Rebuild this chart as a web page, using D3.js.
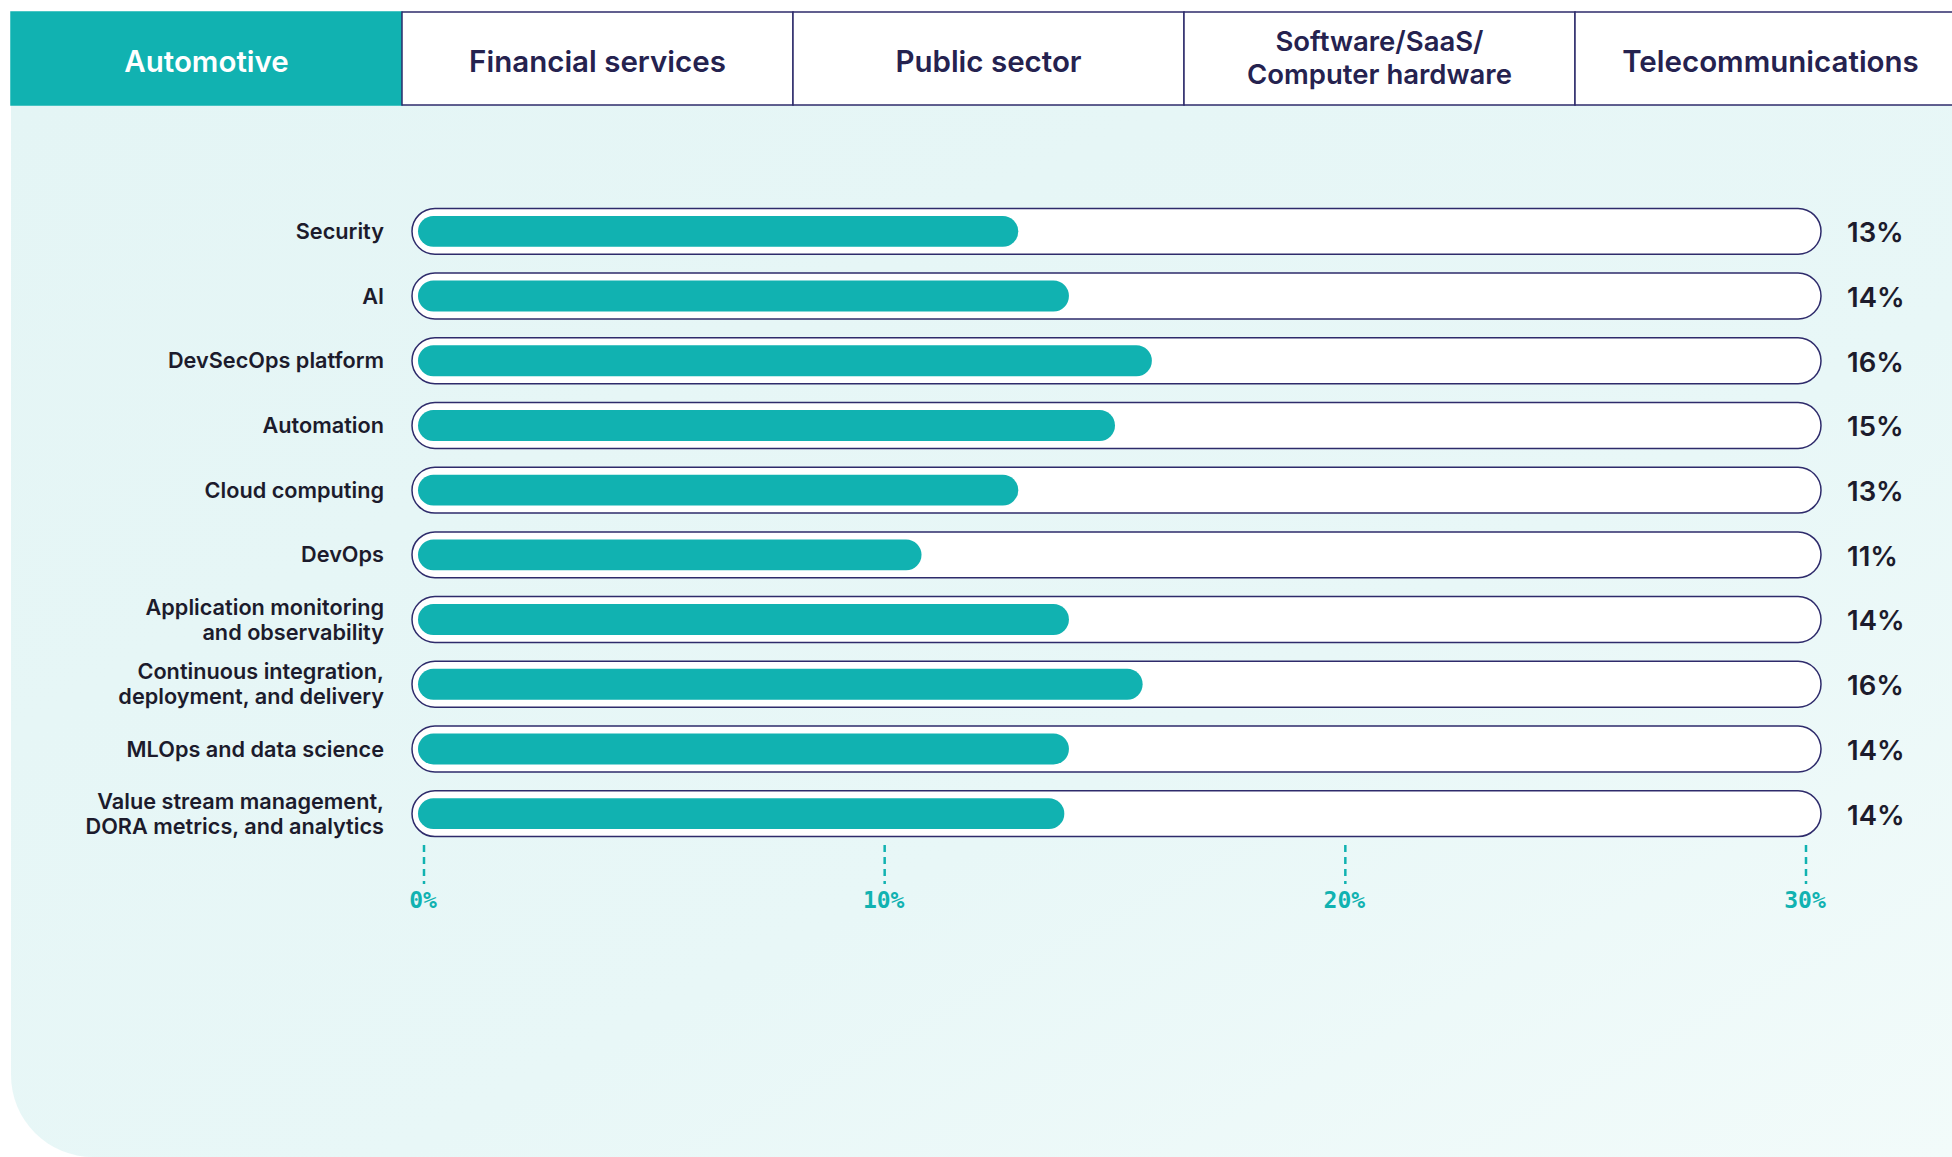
<!DOCTYPE html>
<html>
<head>
<meta charset="utf-8">
<script src="https://cdn.jsdelivr.net/npm/d3@7"></script>
<style>
  body { margin: 0; background: #fff; }
  svg { display: block; }
</style>
</head>
<body>
<svg id="chart"></svg>
<script>
const tabs = ['Automotive', 'Financial services', 'Public sector', 'Software/SaaS/\nComputer hardware', 'Telecommunications']
const activeTab = 'Automotive'

const categories = [
  'Security',
  'AI',
  'DevSecOps platform',
  'Automation',
  'Cloud computing',
  'DevOps',
  'Application monitoring\nand observability',
  'Continuous integration,\ndeployment, and delivery',
  'MLOps and data science',
  'Value stream management,\nDORA metrics, and analytics'
]
const values = [12.9, 14.0, 15.8, 15.0, 12.9, 10.8, 14.0, 15.6, 14.0, 13.9]
const ticks = [0, 10, 20, 30]

const width = 1952
const height = 1157
const teal = '#11b2b1'
const navy = '#2e2b6b'
const ink = '#1c1b2c'

const svg = d3.select('#chart')
  .attr('width', width)
  .attr('height', height)

// background panel with gradient
const defs = svg.append('defs')
const grad = defs.append('linearGradient')
  .attr('id', 'panel-grad')
  .attr('x1', 0).attr('y1', 0).attr('x2', 1).attr('y2', 1)
grad.append('stop').attr('offset', '0%').attr('stop-color', '#e4f5f5')
grad.append('stop').attr('offset', '60%').attr('stop-color', '#e8f7f7')
grad.append('stop').attr('offset', '100%').attr('stop-color', '#f2fbfa')

const px = 11
const py = 105
const r = 82
svg.append('path')
  .attr('d', `M${px},${py} H${width} V${height} H${px + r} A${r},${r} 0 0 1 ${px},${height - r} Z`)
  .attr('fill', 'url(#panel-grad)')

// tabs
const tabX = d3.scaleBand()
  .domain(tabs)
  .range([px, px + 391 * tabs.length])

const tab = svg.append('g').selectAll('g').data(tabs).enter().append('g')
  .attr('transform', d => `translate(${tabX(d)},12)`)

tab.append('rect')
  .attr('width', tabX.bandwidth())
  .attr('height', 93)
  .attr('fill', d => d === activeTab ? teal : '#fff')
  .attr('stroke', d => d === activeTab ? teal : navy)
  .attr('stroke-width', 1.5)

tab.append('text')
  .attr('x', tabX.bandwidth() / 2)
  .attr('text-anchor', 'middle')
  .attr('font-family', 'Inter, sans-serif')
  .attr('font-weight', 600)
  .attr('font-size', d => d.includes('\n') ? 27.5 : 29.5)
  .attr('fill', d => d === activeTab ? '#fff' : '#25224f')
  .each(function (d) {
    const lines = d.split('\n')
    const mid = lines.length > 1 ? 46 : 49.5
    d3.select(this).selectAll('tspan').data(lines).enter().append('tspan')
      .attr('x', tabX.bandwidth() / 2)
      .attr('y', (l, i) => mid + (i - (lines.length - 1) / 2) * 33.5)
      .attr('dy', '0.35em')
      .text(l => l)
  })

// scales
const x = d3.scaleLinear()
  .domain([0, 30])
  .range([424, 1806])

const y = d3.scaleBand()
  .domain(categories)
  .range([199, 846])
  .paddingInner(0.29)
  .paddingOuter(0.145)

const rows = svg.append('g').selectAll('g').data(categories).enter().append('g')
  .attr('transform', d => `translate(0,${y(d)})`)

const bh = y.bandwidth()

rows.append('rect')
  .attr('x', x(0) - 12)
  .attr('width', x(30) + 15 - (x(0) - 12))
  .attr('height', bh)
  .attr('rx', bh / 2)
  .attr('fill', '#fff')
  .attr('stroke', navy)
  .attr('stroke-width', 1.5)

const ih = bh - 15
rows.append('rect')
  .attr('x', x(0) - 6)
  .attr('y', 7.5)
  .attr('width', (d, i) => x(values[i]) - (x(0) - 6))
  .attr('height', ih)
  .attr('rx', ih / 2)
  .attr('fill', teal)

// category labels
rows.append('text')
  .attr('text-anchor', 'end')
  .attr('font-family', 'Inter, sans-serif')
  .attr('font-weight', 600)
  .attr('font-size', 21.7)
  .attr('fill', ink)
  .each(function (d) {
    const lines = d.split('\n')
    d3.select(this).selectAll('tspan').data(lines).enter().append('tspan')
      .attr('x', 384)
      .attr('y', (l, i) => bh / 2 + (i - (lines.length - 1) / 2) * 25)
      .attr('dy', '0.35em')
      .text(l => l)
  })

// value labels
rows.append('text')
  .attr('x', 1847)
  .attr('y', bh / 2 + 1)
  .attr('dy', '0.36em')
  .attr('font-family', 'Inter, sans-serif')
  .attr('font-weight', 600)
  .attr('font-size', 27.5)
  .attr('fill', ink)
  .text((d, i) => d3.format('.0f')(values[i]) + '%')

// axis ticks
const axis = svg.append('g').selectAll('g').data(ticks).enter().append('g')
  .attr('transform', d => `translate(${x(d)},0)`)

axis.append('line')
  .attr('y1', 845)
  .attr('y2', 884)
  .attr('stroke', teal)
  .attr('stroke-width', 2.5)
  .attr('stroke-dasharray', '7,5')

axis.append('text')
  .attr('x', -1)
  .attr('y', 900)
  .attr('dy', '0.35em')
  .attr('text-anchor', 'middle')
  .attr('font-family', '"DejaVu Sans Mono", monospace')
  .attr('font-weight', 600)
  .attr('font-size', 23)
  .attr('fill', teal)
  .text(d => d + '%')
</script>
</body>
</html>
